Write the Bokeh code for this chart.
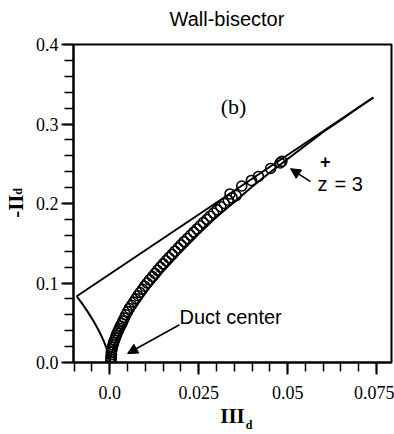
from bokeh.plotting import figure
from bokeh.models import (FixedTicker, Label, Arrow, NormalHead, Range1d, LinearAxis,
                          CustomJSTickFormatter)
from bokeh.embed import file_html
from bokeh.resources import INLINE

# ---- data ----
# two-component limit line
tc_III = [-0.0093, 0.0741]
tc_II = [0.0833, 0.3333]
# left axisymmetric boundary
left_III = [-0.0093, -0.0075, -0.006, -0.0045, -0.003, -0.002, -0.0015, -0.001, -0.0005, -0.0002, -0.0001, 0.0]
left_II = [0.0833, 0.0724, 0.0624, 0.0515, 0.0393, 0.030, 0.0248, 0.0189, 0.0119, 0.0065, 0.0041, 0.0]
# right axisymmetric boundary
right_III = [0.0, 0.0002, 0.0005, 0.001, 0.002, 0.004, 0.007, 0.010, 0.015, 0.020, 0.025, 0.030,
             0.035, 0.040, 0.045, 0.050, 0.055, 0.060, 0.065, 0.070, 0.0741]
right_II = [0.0, 0.0065, 0.012, 0.019, 0.030, 0.048, 0.069, 0.088, 0.115, 0.139, 0.162, 0.183,
            0.202, 0.221, 0.239, 0.256, 0.273, 0.290, 0.305, 0.321, 0.3333]
# wall-bisector data (duct center -> z+ = 3)
data_III = [0.0003, 0.0004, 0.0003, 0.0005, 0.0004, 0.0006, 0.0007, 0.0009, 0.0011, 0.0013,
            0.0016, 0.0018, 0.0021, 0.0024, 0.0027, 0.0030, 0.0034, 0.0037, 0.0041, 0.0045,
            0.0050, 0.0055, 0.0061, 0.0067, 0.0073, 0.0079, 0.0085, 0.0092, 0.0098, 0.0105,
            0.0112, 0.0120, 0.0127, 0.0134, 0.0142, 0.0150, 0.0158, 0.0166, 0.0175, 0.0183,
            0.0192, 0.0200, 0.0209, 0.0218, 0.0227, 0.0236, 0.0245, 0.0254, 0.0263, 0.0273,
            0.0282, 0.0292, 0.0302, 0.0312, 0.0322, 0.0333, 0.0344, 0.0355,
            0.0338, 0.0371, 0.0398, 0.0418, 0.0452, 0.0479, 0.0484]
data_II = [0.001, 0.004, 0.007, 0.010, 0.013, 0.016, 0.019, 0.022, 0.025, 0.028,
           0.031, 0.034, 0.037, 0.040, 0.043, 0.046, 0.049, 0.052, 0.056, 0.060,
           0.064, 0.068, 0.072, 0.076, 0.080, 0.084, 0.088, 0.092, 0.096, 0.100,
           0.104, 0.108, 0.112, 0.116, 0.120, 0.124, 0.128, 0.132, 0.136, 0.140,
           0.144, 0.148, 0.152, 0.156, 0.160, 0.164, 0.168, 0.172, 0.176, 0.180,
           0.184, 0.188, 0.192, 0.196, 0.200, 0.204, 0.207, 0.210,
           0.212, 0.222, 0.229, 0.234, 0.244, 0.251, 0.253]

x_major = [0.0, 0.025, 0.05, 0.075]
x_major_labels = ["0.0", "0.025", "0.05", "0.075"]
x_minor = [-0.01, -0.005, 0.0, 0.005, 0.01, 0.015, 0.02, 0.025, 0.03, 0.035, 0.04, 0.045,
           0.05, 0.055, 0.06, 0.065, 0.07, 0.075]
y_major = [0.0, 0.1, 0.2, 0.3, 0.4]
y_major_labels = ["0.0", "0.1", "0.2", "0.3", "0.4"]
y_minor = [0.0, 0.02, 0.04, 0.06, 0.08, 0.1, 0.12, 0.14, 0.16, 0.18, 0.2, 0.22, 0.24, 0.26,
           0.28, 0.3, 0.32, 0.34, 0.36, 0.38, 0.4]

p = figure(width=394, height=434, output_backend="svg", toolbar_location=None,
           x_range=Range1d(-0.0102, 0.0792), y_range=Range1d(0.0, 0.4),
           min_border_left=73, min_border_right=3, min_border_top=44, min_border_bottom=70)
p.background_fill_color = "white"
p.border_fill_color = "white"
p.outline_line_color = "black"
p.outline_line_width = 2
p.xgrid.visible = False
p.ygrid.visible = False

fmt_code = """
for (let i = 0; i < vals.length; i++) {
    if (Math.abs(vals[i] - tick) < 1e-9) { return labs[i]; }
}
return '';
"""

for ax, maj, labs, mnr in ((p.xaxis[0], x_major, x_major_labels, x_minor),
                           (p.yaxis[0], y_major, y_major_labels, y_minor)):
    ax.ticker = FixedTicker(ticks=maj, minor_ticks=mnr)
    ax.formatter = CustomJSTickFormatter(args=dict(vals=maj, labs=labs), code=fmt_code)
    ax.axis_line_width = 2
    ax.major_tick_in = 0
    ax.major_tick_out = 12
    ax.minor_tick_in = 0
    ax.minor_tick_out = 9
    ax.major_tick_line_width = 2
    ax.minor_tick_line_width = 1.5
    ax.major_label_text_font = "Liberation Serif"
    ax.major_label_text_font_size = "18px"
    ax.major_label_text_font_style = "normal"
    ax.major_label_text_color = "black"
    ax.axis_label_text_font = "Liberation Serif"
    ax.axis_label_text_font_size = "21px"
    ax.axis_label_text_font_style = "bold"
    ax.axis_label_text_color = "black"
p.xaxis[0].major_label_standoff = 11
p.yaxis[0].major_label_standoff = 3
p.xaxis[0].axis_label = "III"
p.xaxis[0].axis_label_standoff = 2
p.yaxis[0].axis_label = "-II\u00a0"
p.yaxis[0].axis_label_standoff = 5

# label-only axes: subscripts "d" and the chart title
def label_axis(text, standoff, font="Liberation Serif", size="12px", style="bold",
               line_height=1.2):
    return LinearAxis(ticker=FixedTicker(ticks=[]), axis_label=text,
                      axis_label_standoff=standoff, axis_line_color=None,
                      major_tick_line_color=None, minor_tick_line_color=None,
                      major_tick_out=0, minor_tick_out=0, major_label_text_font_size="0px",
                      axis_label_text_font=font, axis_label_text_font_size=size,
                      axis_label_text_font_style=style, axis_label_text_color="black",
                      axis_label_text_line_height=line_height)

p.add_layout(label_axis("\u00a0" * 11 + "d", -13, line_height=0.6), "below")
p.add_layout(label_axis("\u00a0" * 8 + "d", -24), "left")
p.add_layout(label_axis("Wall-bisector" + "\u00a0" * 2, 15, "Liberation Sans", "20px", "normal"),
             "above")

p.line(tc_III, tc_II, line_color="black", line_width=2)
p.line(left_III, left_II, line_color="black", line_width=2)
p.line(right_III, right_II, line_color="black", line_width=2)
p.scatter(data_III, data_II, marker="circle", size=10, fill_color=None,
          line_color="black", line_width=1.6)

def lab(x, y, t, font, size, align="left", baseline="alphabetic", style="normal"):
    p.add_layout(Label(x=x, y=y, text=t, text_font=font, text_font_size=size,
                       text_align=align, text_baseline=baseline, text_font_style=style,
                       text_color="black"))

lab(0.0348, 0.3225, "(b)", "Liberation Serif", "22px", "center", "middle")
lab(0.0196, 0.0575, "Duct  center", "Liberation Sans", "20px")
lab(0.0584, 0.225, "z", "Liberation Sans", "20px")
lab(0.0606, 0.2530, "+", "Liberation Sans", "18px", "center", "middle", "bold")
lab(0.0632, 0.225, "= 3", "Liberation Sans", "20px")

p.add_layout(Arrow(end=NormalHead(size=10, fill_color="black", line_color="black"),
                   x_start=0.0196, y_start=0.0475, x_end=0.0050, y_end=0.0113,
                   line_color="black", line_width=1.5))
p.add_layout(Arrow(end=NormalHead(size=10, fill_color="black", line_color="black"),
                   x_start=0.0564, y_start=0.2275, x_end=0.0508, y_end=0.2438,
                   line_color="black", line_width=1.5))

open("out.html", "w").write(file_html(p, INLINE))
